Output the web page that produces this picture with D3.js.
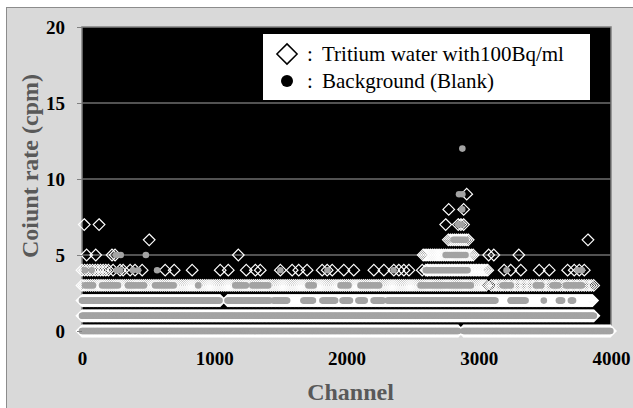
<!DOCTYPE html>
<html>
<head>
<meta charset="utf-8">
<script src="https://cdn.jsdelivr.net/npm/d3@7"></script>
<style>
  body { margin: 0; background: #fff; }
  svg { display: block; }
  text { font-family: "Liberation Serif", "Times New Roman", serif; }
</style>
</head>
<body>
<svg id="chart"></svg>
<script>
// values (count rate in cpm per channel)
// dense stretches: [count, firstChannel, lastChannel, channels between marks]
const tritiumRuns = [
  [0, 0, 2845, 6], [0, 2885, 4000, 6],
  [1, 0, 3870, 6],
  [2, 0, 1045, 6], [2, 1100, 3860, 6],
  [3, 0, 3060, 16], [3, 3095, 3870, 18],
  [4, 0, 200, 20], [4, 2600, 3075, 12],
  [5, 2580, 2960, 14],
  [6, 2770, 2925, 15],
  [7, 2845, 2900, 20]
];
// single marks: [channel, count]
const tritiumPoints = [
  [235, 4], [288, 4], [311, 4], [364, 4], [401, 4], [455, 4], [629, 4], [697, 4],
  [833, 4], [1045, 4], [1106, 4], [1242, 4], [1311, 4], [1348, 4], [1500, 4],
  [1589, 4], [1639, 4], [1702, 4], [1816, 4], [1854, 4], [1892, 4], [1980, 4],
  [2055, 4], [2207, 4], [2283, 4], [2358, 4], [2396, 4], [2434, 4], [2472, 4],
  [2573, 4], [2611, 4], [3192, 4], [3242, 4], [3318, 4], [3457, 4], [3533, 4],
  [3672, 4], [3722, 4], [3760, 4], [3798, 4],
  [35, 5], [104, 5], [227, 5], [250, 5], [1182, 5], [3075, 5], [3114, 5], [3303, 5],
  [508, 6], [3826, 6],
  [17, 7], [129, 7], [2750, 7],
  [2773, 8], [2886, 8],
  [2909, 9]
];
const blankRuns = [
  [0, 0, 2845, 6], [0, 2885, 4000, 6],
  [1, 0, 3870, 6],
  [2, 0, 1045, 8], [2, 1100, 1424, 8], [2, 1447, 1553, 8], [2, 1674, 1750, 8],
  [2, 1818, 1917, 8], [2, 1970, 2030, 8], [2, 2090, 2144, 8], [2, 2205, 2280, 8],
  [2, 2310, 3130, 8], [2, 3242, 3356, 8], [2, 3606, 3636, 8], [2, 3697, 3720, 8],
  [3, 23, 98, 20], [3, 152, 273, 20], [3, 348, 477, 20], [3, 553, 705, 20],
  [3, 1159, 1258, 20], [3, 1288, 1424, 20], [3, 1712, 1765, 20], [3, 1955, 2030, 20],
  [3, 2106, 2258, 20], [3, 2560, 2955, 20], [3, 3182, 3258, 20], [3, 3432, 3485, 20],
  [3, 3560, 3606, 20], [3, 3659, 3788, 20],
  [4, 2600, 2925, 15],
  [5, 2750, 2900, 15],
  [6, 2810, 2900, 15]
];
const blankPoints = [
  [879, 3], [3492, 2], [3242, 2],
  [23, 4], [73, 4], [263, 4], [288, 4], [386, 4], [424, 4], [568, 4], [1500, 4],
  [1856, 4], [2356, 4], [3210, 4], [3750, 4], [3780, 4],
  [255, 5], [293, 5], [483, 5],
  [2845, 7], [2870, 7],
  [2875, 8],
  [2851, 9], [2876, 9],
  [2876, 12]
];
const xTicks = [0, 1000, 2000, 3000, 4000];
const yTicks = [0, 5, 10, 15, 20];
const legendLabels = ["Tritium water with100Bq/ml", "Background (Blank)"];

const width = 633, height = 408;
const margin = {left: 82, right: 22, top: 27, bottom: 77};

const svg = d3.select("#chart").attr("width", width).attr("height", height);

// outer panel
svg.append("rect")
  .attr("x", 6.5).attr("y", 7.5).attr("width", 640).attr("height", 420)
  .attr("fill", "#d9d9d9").attr("stroke", "#8c8c8c");

const x = d3.scaleLinear().domain([0, 4000]).range([margin.left, width - margin.right]);
const y = d3.scaleLinear().domain([0, 20]).range([height - margin.bottom, margin.top]);

// plot area
svg.append("rect")
  .attr("x", x(0)).attr("y", y(20))
  .attr("width", x(4000) - x(0)).attr("height", y(0) - y(20))
  .attr("fill", "#000").attr("stroke", "#808080").attr("stroke-width", 1.5);

// gridlines
svg.append("g").selectAll("line")
  .data(yTicks.filter(d => d > 0 && d < 20))
  .enter().append("line")
    .attr("x1", x(0)).attr("x2", x(4000))
    .attr("y1", d => y(d)).attr("y2", d => y(d))
    .attr("stroke", "#6e6e6e").attr("stroke-width", 1.3);

const expand = runs => runs.flatMap(([c, a, b, step]) => d3.range(a, b + 1, step).map(ch => [ch, c]));
const tritium = expand(tritiumRuns).concat(tritiumPoints);
const blank = expand(blankRuns).concat(blankPoints);

const diamond = d3.symbol(d3.symbolDiamond2, 86);

svg.append("g").selectAll("path")
  .data(tritium)
  .enter().append("path")
    .attr("d", diamond)
    .attr("transform", d => `translate(${x(d[0])},${y(d[1])})`)
    .attr("fill", "none").attr("stroke", "#fff").attr("stroke-width", 1.2);

svg.append("g").selectAll("circle")
  .data(blank)
  .enter().append("circle")
    .attr("cx", d => x(d[0])).attr("cy", d => y(d[1]))
    .attr("r", 3.3)
    .attr("fill", "#a3a3a3");

// axes
const yAxis = svg.append("g")
  .attr("transform", `translate(${x(0)},0)`)
  .call(d3.axisLeft(y).tickValues(yTicks).tickSize(5).tickPadding(12));
yAxis.select(".domain").remove();
yAxis.selectAll("line").attr("stroke", "#808080");
yAxis.selectAll("text")
  .attr("fill", "#000").style("font-size", "19px").style("font-weight", "bold")
  .style("font-family", "'Liberation Serif', serif");

const xAxis = svg.append("g")
  .attr("transform", `translate(0,${y(0)})`)
  .call(d3.axisBottom(x).tickValues(xTicks).tickFormat(d3.format("d")).tickSize(0).tickPadding(21));
xAxis.select(".domain").remove();
xAxis.selectAll("text")
  .attr("fill", "#000").style("font-size", "19px").style("font-weight", "bold")
  .style("font-family", "'Liberation Serif', serif");

// axis titles
svg.append("text")
  .attr("x", (x(0) + x(4000)) / 2 + 4).attr("y", 400)
  .attr("text-anchor", "middle")
  .attr("fill", "#595959").style("font-size", "24px").style("font-weight", "bold")
  .text("Channel");

svg.append("text")
  .attr("transform", "translate(38,166) rotate(-90)")
  .attr("text-anchor", "middle")
  .attr("fill", "#595959").style("font-size", "24px").style("font-weight", "bold")
  .text("Coiunt rate (cpm)");

// legend
const legend = svg.append("g");
legend.append("rect")
  .attr("x", 263).attr("y", 34).attr("width", 327).attr("height", 66)
  .attr("fill", "#fff");

const rows = legend.selectAll("g.row")
  .data(legendLabels)
  .enter().append("g")
    .attr("class", "row")
    .attr("transform", (d, i) => `translate(0,${54 + i * 27})`);

rows.filter((d, i) => i === 0).append("path")
  .attr("d", d3.symbol(d3.symbolDiamond2, 260))
  .attr("transform", "translate(287,0)")
  .attr("fill", "#fff").attr("stroke", "#000").attr("stroke-width", 1.5);
rows.filter((d, i) => i === 1).append("circle")
  .attr("cx", 287).attr("cy", 0).attr("r", 6).attr("fill", "#000");

rows.append("text")
  .attr("x", 310).attr("y", 7)
  .attr("text-anchor", "middle")
  .style("font-size", "21px")
  .text(":");
rows.append("text")
  .attr("x", 322).attr("y", 7)
  .style("font-size", "21px")
  .text(d => d);
</script>
</body>
</html>
